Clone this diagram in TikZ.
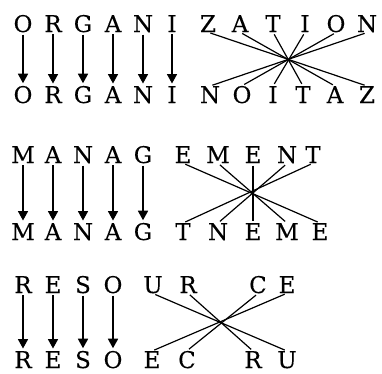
\documentclass[tikz,border=0pt]{standalone}
\usepackage{fontspec}
\setmainfont{DejaVu Serif}
\newfontfamily\lettfont{DejaVu Serif}[FakeBold=0.3]
\usetikzlibrary{arrows.meta}
\begin{document}
\begin{tikzpicture}[x=1pt,y=-1pt,
  letter/.style={anchor=base,inner sep=0pt,font=\lettfont\fontsize{23}{27}\selectfont},
  downarrow/.style={line width=1.6pt,-{Triangle[width=10pt,length=9.5pt]},shorten <=2pt,shorten >=2.5pt},
  cross/.style={line width=1.2pt,shorten <=2.5pt,shorten >=2.5pt}]
\useasboundingbox (0,0) rectangle (382,373);
% Block 1
\foreach \c/\x [count=\i] in {O/23,R/53,G/83,A/113,N/143,I/172,Z/208,A/240,T/273,I/305,O/336,N/367}
  \node[letter] (a\i) at (\x,32) {\c};
\foreach \c/\x [count=\i] in {O/23,R/53,G/83,A/113,N/143,I/172,N/210,O/242,I/273,T/303,A/335,Z/367}
  \node[letter] (b\i) at (\x,103) {\c};
\foreach \i in {1,...,6} \draw[downarrow] (a\i.south) -- (b\i.north);
\foreach \i [evaluate=\i as \j using int(19-\i)] in {7,...,12} \draw[cross] (a\i.south) -- (b\j.north);
% Block 2
\foreach \c/\x [count=\i] in {M/23,A/53,N/83,A/113,G/143,E/183,M/218,E/253,N/287,T/313}
  \node[letter] (c\i) at (\x,163) {\c};
\foreach \c/\x [count=\i] in {M/23,A/53,N/83,A/113,G/143,T/183,N/218,E/253,M/287,E/320}
  \node[letter] (d\i) at (\x,240) {\c};
\foreach \i in {1,...,5} \draw[downarrow] (c\i.south) -- (d\i.north);
\foreach \i [evaluate=\i as \j using int(16-\i)] in {6,...,10} \draw[cross] (c\i.south) -- (d\j.north);
% Block 3
\foreach \c/\x [count=\i] in {R/23,E/53,S/83,O/113,U/153,R/188,C/258,E/287}
  \node[letter] (e\i) at (\x,293) {\c};
\foreach \c/\x [count=\i] in {R/23,E/53,S/83,O/113,E/152,C/187,R/253,U/287}
  \node[letter] (f\i) at (\x,368) {\c};
\foreach \i in {1,...,4} \draw[downarrow] (e\i.south) -- (f\i.north);
\foreach \i [evaluate=\i as \j using int(13-\i)] in {5,...,8} \draw[cross] (e\i.south) -- (f\j.north);
\end{tikzpicture}
\end{document}
